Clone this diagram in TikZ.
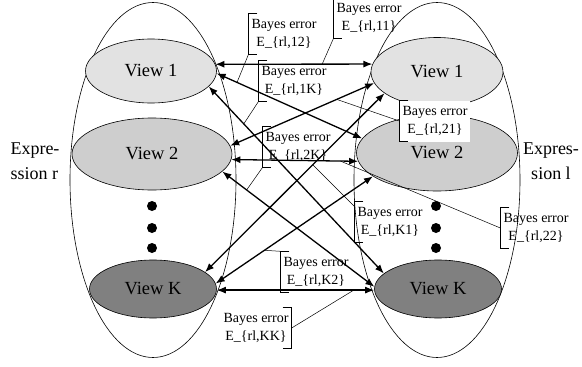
\documentclass[tikz,border=0pt]{standalone}
\usepackage{fontspec}
\setmainfont{Liberation Serif}
\usetikzlibrary{shapes.geometric,arrows.meta}

\definecolor{viewone}{RGB}{226,226,226}
\definecolor{viewtwo}{RGB}{206,206,206}
\definecolor{viewk}{RGB}{128,128,128}

\begin{document}
\begin{tikzpicture}[x=1pt,y=-1pt,
  group/.style={draw,ellipse,line width=0.6pt,minimum width=166pt,minimum height=355pt,inner sep=0pt},
  view/.style={draw,ellipse,line width=0.6pt,inner sep=0pt,font=\fontsize{18.5}{20}\selectfont},
  expr/.style={inner sep=0pt,font=\fontsize{18}{25}\selectfont},
  twoway/.style={{Latex[length=9pt,width=7pt]}-{Latex[length=9pt,width=7pt]},line width=1.3pt},
  callout/.style={align=center,inner xsep=3pt,inner ysep=0pt,minimum height=41pt,font=\fontsize{14}{18}\selectfont},
  leader/.style={line width=0.5pt},
  bracket/.style={line width=0.6pt}]
\useasboundingbox (0,0) rectangle (582,367);

% the two expressions
\node[group] (exprR) at (153,180) {};
\node[group] (exprL) at (437,180) {};
\node[expr,align=left] (nameR) at (35,161) {Expre-\\ssion r};
\node[expr,align=center] (nameL) at (551,161) {Expres-\\sion l};

% views of expression r
\node[view,fill=viewone,minimum width=131pt,minimum height=64pt] (r1) at (151,71) {View 1};
\node[view,fill=viewtwo,minimum width=160pt,minimum height=72pt] (r2) at (152,154) {View 2};
\node[view,fill=viewk,minimum width=127pt,minimum height=58pt] (rK) at (153,289) {View K};
% views of expression l
\node[view,fill=viewone,minimum width=132pt,minimum height=69pt] (l1) at (437,72) {View 1};
\node[view,fill=viewtwo,minimum width=161pt,minimum height=76pt] (l2) at (437,153) {View 2};
\node[view,fill=viewk,minimum width=127pt,minimum height=58pt] (lK) at (438,289) {View K};

\foreach \y in {206,228,248} {
  \fill (152,\y) circle [radius=5pt];
  \fill (436,\y) circle [radius=5pt];
}

% every view of r against every view of l
\draw[twoway] (r1.6) -- coordinate[pos=0.68] (e11) (l1.173);
\draw[twoway] (r1.-2) -- coordinate[pos=0.14] (e12) (l2.169);
\draw[twoway] (r1.-15) -- coordinate[pos=0.2] (e1K) (lK.164);
\draw[twoway] (r2.6) -- coordinate[pos=0.74] (e21) (l1.190);
\draw[twoway] (r2.-4) -- coordinate[pos=0.86] (e22) (l2.186);
\draw[twoway] (r2.-14) -- coordinate[pos=0.16] (e2K) (lK.178);
\draw[twoway] (rK.18) -- coordinate[pos=0.6] (eK1) (l1.202);
\draw[twoway] (rK.5) -- coordinate[pos=0.31] (eK2) (l2.200);
\draw[twoway] (rK.-1) -- coordinate[pos=0.87] (eKK) (lK.181);

% Bayes error callouts
\node[callout] (err11) at (369,18) {Bayes error\\E\_\{rl,11\}};
\node[callout] (err12) at (284,34) {Bayes error\\E\_\{rl,12\}};
\node[callout] (err1K) at (294,81) {Bayes error\\E\_\{rl,1K\}};
\node[callout,fill=white] (err21) at (435,121) {Bayes error\\E\_\{rl,21\}};
\node[callout] (err2K) at (298,147) {Bayes error\\E\_\{rl,2K\}};
\node[callout] (err22) at (536,228) {Bayes error\\E\_\{rl,22\}};
\node[callout] (errK1) at (390,222) {Bayes error\\E\_\{rl,K1\}};
\node[callout] (errK2) at (316,272) {Bayes error\\E\_\{rl,K2\}};
\node[callout] (errKK) at (256,328) {Bayes error\\E\_\{rl,KK\}};

\foreach \n in {err11,err12,err1K,err21,err2K,err22,errK1,errK2}
  \draw[bracket] ([xshift=9pt]\n.north west) -- (\n.north west) -- (\n.south west) -- ([xshift=9pt]\n.south west);
\draw[bracket] ([xshift=-9pt]errKK.north east) -- (errKK.north east) -- (errKK.south east) -- ([xshift=-9pt]errKK.south east);

\draw[leader] (err11.south west) -- (e11);
\draw[leader] (err12.south west) -- (e12);
\draw[leader] (err1K.south west) -- (e1K);
\draw[leader] (err21.west) -- (e21);
\draw[leader] (err2K.south west) -- (e2K);
\draw[leader] ([yshift=-5pt]errK1.north west) -- (eK1);
\draw[leader] (err22.west) -- (e22);
\draw[leader] (errK2.north west) -- (eK2);
\draw[leader] (errKK.east) -- (eKK);
\end{tikzpicture}
\end{document}
